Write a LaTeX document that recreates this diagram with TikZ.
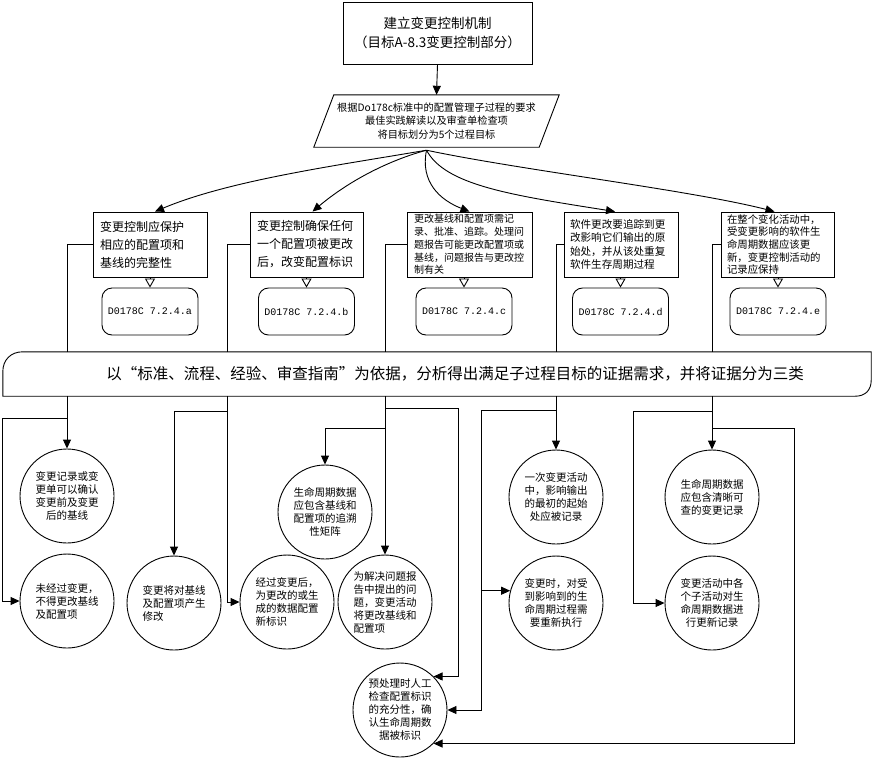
\documentclass[tikz,border=0pt]{standalone}
\usepackage{fontspec}
\setmainfont{Noto Sans CJK SC}
\newfontfamily\monofnt{Liberation Mono}
\usetikzlibrary{arrows.meta,calc}
\begin{document}
\begin{tikzpicture}[x=1pt,y=-1pt]
\tikzset{
 ln/.style={line width=0.9pt, draw=black},
 arr/.style={ln, -{Triangle[length=9pt,width=8pt]}},
 oarr/.style={ln, -{Triangle[open,length=9pt,width=10pt]}},
 goalbox/.style={draw, line width=0.9pt, minimum height=65pt, inner ysep=0pt, align=left},
 refbox/.style={draw, line width=0.9pt, rounded corners=10pt, minimum width=96pt, minimum height=47pt, font=\monofnt\fontsize{10}{12}\selectfont},
 evid/.style={draw, circle, line width=0.9pt, minimum size=94pt, inner sep=0pt, font=\fontsize{10.5}{13}\selectfont},
}
\useasboundingbox (0,0) rectangle (874,761);

% top
\node[draw, line width=0.9pt, minimum width=189pt, minimum height=62pt, align=center, font=\fontsize{13.5}{19}\selectfont] (top) at (437.5,33) {建立变更控制机制\\（目标A-8.3变更控制部分）};
\node[minimum width=225pt, minimum height=52pt, align=center, font=\fontsize{10.2}{13.5}\selectfont] (para) at (436.5,121) {根据Do178c标准中的配置管理子过程的要求\\最佳实践解读以及审查单检查项\\将目标划分为5个过程目标};
\draw[ln] ($(para.south west)+(-10,0)$) -- ($(para.north west)+(10,0)$) -- ($(para.north east)+(10,0)$) -- ($(para.south east)+(-10,0)$) -- cycle;
\draw[arr] (top.south) -- (para.north);
\coordinate (pb) at ($(para.south)+(-10,3)$);

% goal boxes
\node[goalbox, text width=100pt, inner xsep=7pt, font=\fontsize{12}{18}\selectfont] (box1) at (150,244.5) {变更控制应保护\\相应的配置项和\\基线的完整性};
\node[goalbox, text width=99pt, inner xsep=7pt, font=\fontsize{12}{18}\selectfont] (box2) at (306.5,244.5) {变更控制确保任何\\一个配置项被更改\\后，改变配置标识};
\node[goalbox, text width=111pt, inner xsep=7pt, font=\fontsize{10}{12.7}\selectfont] (box3) at (469.5,244.5) {更改基线和配置项需记\\录、批准、追踪。处理问\\题报告可能更改配置项或\\基线，问题报告与更改控\\制有关};
\node[goalbox, text width=102pt, inner xsep=6pt, font=\fontsize{10.6}{13.5}\selectfont] (box4) at (621,244.5) {软件更改要追踪到更\\改影响它们输出的原\\始处，并从该处重复\\软件生存周期过程};
\node[goalbox, text width=101pt, inner xsep=6pt, font=\fontsize{10.4}{12.6}\selectfont] (box5) at (777.5,244.5) {在整个变化活动中，\\受变更影响的软件生\\命周期数据应该更\\新，变更控制活动的\\记录应保持};

\draw[arr] (pb) .. controls (340,165) and (230,180) .. ($(box1.north)+(5,0)$);
\draw[arr] (pb) .. controls (390,160) and (350,180) .. ($(box2.north)+(6,0)$);
\draw[arr] (pb) .. controls (420,182) and (440,200) .. (box3.north);
\draw[arr] (pb) .. controls (445,185) and (510,195) .. ($(box4.north)+(-6,0)$);
\draw[arr] (pb) .. controls (520,170) and (690,190) .. ($(box5.north)+(-3,0)$);

% reference boxes
\node[refbox] (rr1) at (150,311.5) {D0178C 7.2.4.a};
\node[refbox] (rr2) at (306.5,311.5) {D0178C 7.2.4.b};
\node[refbox] (rr3) at (464,311.5) {D0178C 7.2.4.c};
\node[refbox] (rr4) at (620.5,311.5) {D0178C 7.2.4.d};
\node[refbox] (rr5) at (778,311.5) {D0178C 7.2.4.e};
\foreach \i in {1,...,5} {\draw[oarr] (rr\i.north |- box\i.south) -- (rr\i.north);}

% banner
\node[minimum width=868pt, minimum height=44pt, font=\fontsize{15.5}{18}\selectfont] (banner) at (437,374) {\hspace*{36pt}以“标准、流程、经验、审查指南”为依据，分析得出满足子过程目标的证据需求，并将证据分为三类};
\draw[ln] (banner.south west) -- ($(banner.north west)+(0,20)$) .. controls ($(banner.north west)+(0,8)$) and ($(banner.north west)+(8,0)$) .. ($(banner.north west)+(20,0)$) -- (banner.north east) -- ($(banner.south east)+(0,-16)$) .. controls ($(banner.south east)+(0,-6)$) and ($(banner.south east)+(-6,0)$) .. ($(banner.south east)+(-16,0)$) -- cycle;

% evidence circles
\node[evid, align=center] (c1) at (67,496) {变更记录或变\\更单可以确认\\变更前及变更\\后的基线};
\node[evid, align=left] (c2) at (67,601) {未经过变更，\\不得更改基线\\及配置项};
\node[evid, align=left] (c3) at (174,603) {变更将对基线\\及配置项产生\\修改};
\node[evid, align=left] (c4) at (287,602) {经过变更后，\\为更改的或生\\成的数据配置\\新标识};
\node[evid, align=center] (c5) at (325,512) {生命周期数据\\应包含基线和\\配置项的追溯\\性矩阵};
\node[evid, align=left] (c6) at (385,602) {为解决问题报\\告中提出的问\\题，变更活动\\将更改基线和\\配置项};
\node[evid, align=center] (c7) at (400,710) {预处理时人工\\检查配置标识\\的充分性，确\\认生命周期数\\据被标识};
\node[evid, align=center] (c8) at (556,497) {一次变更活动\\中，影响输出\\的最初的起始\\处应被记录};
\node[evid, align=center] (c9) at (556,603) {变更时，对受\\到影响到的生\\命周期过程需\\要重新执行};
\node[evid, align=center] (c10) at (712,497) {生命周期数据\\应包含清晰可\\查的变更记录};
\node[evid, align=center] (c11) at (712,603) {变更活动中各\\个子活动对生\\命周期数据进\\行更新记录};

% helper coordinates
\coordinate (v2) at (227,0);
\coordinate (j1) at (2,418);
\coordinate (j2) at (173,411);
\coordinate (j3) at (0,428);
\coordinate (j4) at (458,408);
\coordinate (j5) at (481,410);
\coordinate (j6) at (633,411);
\coordinate (j7) at (794,428);

% boxes to banner
\draw[ln] (box1.west) -| (c1.north |- banner.north);
\draw[ln] (box2.west) -| (v2 |- banner.north);
\draw[ln] (box3.west) -| (c6.north |- banner.north);
\draw[ln] (box4.west) -| (c8.north |- banner.north);
\draw[ln] (box5.west) -| (c10.north |- banner.north);

% banner to circles
\draw[arr] (c1.north |- banner.south) -- (c1.north);
\draw[arr] (c1.north |- j1) -- (j1) |- (c2.west);
\draw[arr] (v2 |- banner.south) |- (c4.west);
\draw[arr] (v2 |- j2) -| (c3.north);
\draw[arr] (c6.north |- banner.south) -- (c6.north);
\draw[arr] (c6.north |- j3) -| (c5.north);
\draw[arr] (c6.north |- j4) -- (j4) |- (c7.45);
\draw[arr] (c8.north |- banner.south) -- (c8.north);
\draw[arr] (c8.north |- j5) -- (j5) |- (c7.east);
\draw[arr] (j5 |- c9.165) -- (c9.165);
\draw[arr] (c10.north |- banner.south) -- (c10.north);
\draw[arr] (c10.north |- j6) -- (j6) |- (c11.west);
\draw[arr] (c10.north |- j7) -- (j7) |- (c7.-45);
\end{tikzpicture}
\end{document}
